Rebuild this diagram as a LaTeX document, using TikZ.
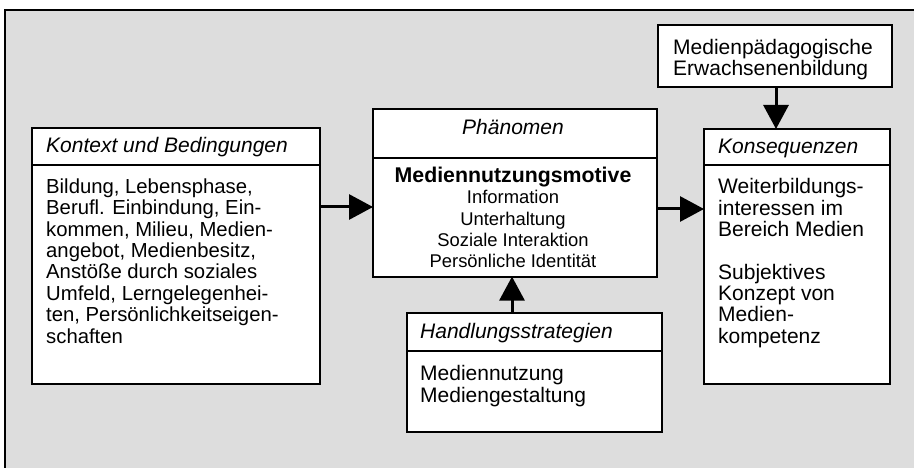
\documentclass[tikz,border=0pt]{standalone}
\usepackage{fontspec}
\setmainfont{Liberation Sans}
\usetikzlibrary{arrows.meta}
\definecolor{bggrey}{RGB}{221,221,221}
\tikzset{
  box/.style={draw=black, line width=1.6pt, fill=white, anchor=north west, inner sep=0pt},
  divider/.style={draw=black, line width=1.6pt},
  frameline/.style={draw=black, line width=2.2pt},
  arr/.style={draw=black, line width=3pt, -{Triangle[width=25pt,length=24pt]}, shorten >=-1pt},
  head/.style={font=\fontsize{21}{22}\selectfont\itshape, inner sep=0pt},
  body/.style={inner sep=0pt, align=left}
}
\begin{document}
\begin{tikzpicture}[x=1pt,y=-1pt]
\useasboundingbox (0,0) rectangle (914,468);
% background frame
\fill[bggrey] (5,10) rectangle (916,470);
\draw[frameline] (5,470) -- (5,10) -- (916,10);

% boxes
\node[box, minimum width=288pt, minimum height=256pt] (kontext) at (31,127) {};
\node[box, minimum width=284pt, minimum height=168pt] (phen) at (372,108) {};
\node[box, minimum width=255pt, minimum height=119pt] (hand) at (406,312) {};
\node[box, minimum width=234pt, minimum height=62pt] (medpaed) at (657,24) {};
\node[box, minimum width=186pt, minimum height=255pt] (kons) at (703,128) {};

% dividers
\draw[divider] (kontext.west |- 0,165) -- (kontext.east |- 0,165);
\draw[divider] (phen.west |- 0,158) -- (phen.east |- 0,158);
\draw[divider] (hand.west |- 0,351) -- (hand.east |- 0,351);
\draw[divider] (kons.west |- 0,165) -- (kons.east |- 0,165);

% headers
\node[head, anchor=base west] (kontextH) at (46,153) {Kontext und Bedingungen};
\node[head, anchor=base] (phenH) at (513,135) {Phänomen};
\node[head, anchor=base west] (handH) at (420,338) {Handlungsstrategien};
\node[head, anchor=base west] (konsH) at (718,154) {Konsequenzen};

% bodies (base anchor = baseline of the last line)
\node[body, anchor=base west, font=\fontsize{20.3}{21.4}\selectfont] (kontextB) at (46,343)
 {Bildung, Lebensphase,\\Berufl. Einbindung, Ein-\\kommen, Milieu, Medien-\\angebot, Medienbesitz,\\Anstöße durch soziales\\Umfeld, Lerngelegenhei-\\ten, Persönlichkeitseigen-\\schaften};
\node[inner sep=0pt, align=center, anchor=base, font=\fontsize{18.4}{21.5}\selectfont] (phenB) at (513,268)
 {{\fontsize{21.3}{21.5}\selectfont\bfseries Mediennutzungsmotive}\\Information\\Unterhaltung\\Soziale Interaktion\\Persönliche Identität};
\node[body, anchor=base west, font=\fontsize{21}{21.6}\selectfont] (handB) at (420,402)
 {Mediennutzung\\Mediengestaltung};
\node[body, anchor=base west, font=\fontsize{21}{21.4}\selectfont] (medpaedB) at (673,76)
 {Medienpädagogische\\Erwachsenenbildung};
\node[body, anchor=base west, font=\fontsize{21}{21.3}\selectfont] (konsB) at (718,343)
 {Weiterbildungs-\\interessen im\\Bereich Medien\\[21.3pt]Subjektives\\Konzept von\\Medien-\\kompetenz};

% connectors
\draw[arr] (kontext.east |- 0,207) -- (phen.west |- 0,207);
\draw[arr] (phen.east |- 0,209) -- (kons.west |- 0,209);
\draw[arr] (hand.north -| 512,0) -- (phen.south -| 512,0);
\draw[arr] (medpaed.south -| 776,0) -- (kons.north -| 776,0);
\end{tikzpicture}
\end{document}
